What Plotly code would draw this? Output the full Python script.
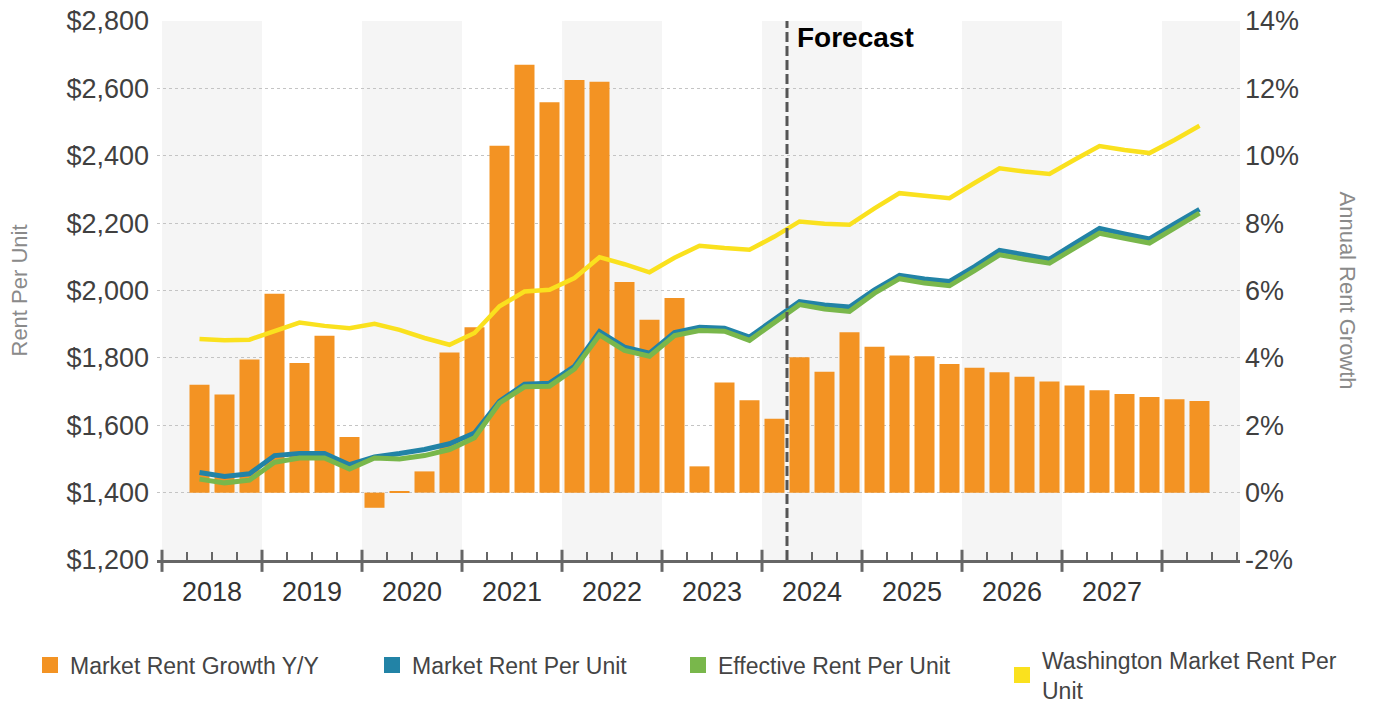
import plotly.graph_objects as go

# Quarterly series, 2018 Q2 through 2028 Q2
start_year, start_q = 2018, 2
years = [2018, 2019, 2020, 2021, 2022, 2023, 2024, 2025, 2026, 2027]

growth_pct = [3.20, 2.91, 3.95, 5.90, 3.85, 4.66, 1.65, -0.45, 0.03, 0.63,
              4.16, 4.91, 10.30, 12.70, 11.59, 12.25, 12.20, 6.25, 5.13, 5.78,
              0.78, 3.27, 2.74, 2.19, 4.02, 3.59, 4.76, 4.33, 4.07, 4.05,
              3.82, 3.71, 3.57, 3.44, 3.30, 3.18, 3.04, 2.93, 2.84, 2.77, 2.72]

market_rent = [1460, 1448, 1456, 1510, 1516, 1516, 1483, 1506, 1516, 1528,
               1545, 1577, 1671, 1722, 1725, 1775, 1878, 1832, 1814, 1875,
               1891, 1888, 1862, 1913, 1967, 1957, 1951, 2002, 2045, 2034,
               2027, 2071, 2119, 2106, 2093, 2139, 2184, 2168, 2153, 2198, 2241]

effective_rent = [1440, 1429, 1437, 1490, 1503, 1503, 1470, 1503, 1500, 1510,
                  1528, 1563, 1666, 1714, 1716, 1767, 1868, 1822, 1805, 1866,
                  1881, 1879, 1852, 1903, 1958, 1945, 1938, 1992, 2035, 2022,
                  2014, 2059, 2106, 2093, 2081, 2126, 2170, 2155, 2141, 2185, 2230]

washington_rent = [1856, 1852, 1854, 1878, 1905, 1895, 1888, 1901, 1883, 1859,
                   1839, 1874, 1953, 1997, 2002, 2037, 2099, 2078, 2054, 2097,
                   2133, 2126, 2121, 2160, 2205, 2198, 2195, 2244, 2289, 2281,
                   2274, 2319, 2363, 2353, 2346, 2388, 2429, 2417, 2408, 2447, 2489]

forecast_start = (2024, 2)  # first forecast quarter

rent_ticks = [1200, 1400, 1600, 1800, 2000, 2200, 2400, 2600, 2800]
pct_ticks = [-2, 0, 2, 4, 6, 8, 10, 12, 14]

ORANGE = "#F39323"
BLUE = "#2283A6"
GREEN = "#79B74B"
YELLOW = "#FAE11E"
AXIS = "#666666"
FONT = "Liberation Sans, Arial, sans-serif"


def qpos(year, q):
    """Axis position of a quarter's start, in quarters from Jan 2018."""
    return (year - years[0]) * 4 + (q - 1)


n = len(growth_pct)
x_mid = []
y_, q_ = start_year, start_q
for _ in range(n):
    x_mid.append(qpos(y_, q_) + 0.5)
    q_ += 1
    if q_ > 4:
        q_, y_ = 1, y_ + 1

x_end = qpos(years[-1] + 1, 1) + 3.12
forecast_x = qpos(*forecast_start)

fig = go.Figure()

fig.add_trace(go.Bar(x=x_mid, y=growth_pct, width=0.8, marker_color=ORANGE,
                     marker_line_width=0, showlegend=False, yaxis="y",
                     hovertemplate="%{y:.2f}%<extra>Market Rent Growth Y/Y</extra>"))

for vals, color, width, name in [
    (market_rent, BLUE, 5, "Market Rent Per Unit"),
    (effective_rent, GREEN, 5, "Effective Rent Per Unit"),
    (washington_rent, YELLOW, 4.5, "Washington Market Rent Per Unit"),
]:
    fig.add_trace(go.Scatter(x=x_mid, y=vals, mode="lines", yaxis="y2",
                             line=dict(color=color, width=width),
                             showlegend=False, name=name,
                             hovertemplate="$%{y:,.0f}<extra>" + name + "</extra>"))

# Legend entries, one legend box each so they can be spaced freely
legend_items = [
    ("Market Rent Growth Y/Y", ORANGE, "legend", 70),
    ("Market Rent Per Unit", BLUE, "legend2", 412),
    ("Effective Rent Per Unit", GREEN, "legend3", 718),
    ("Washington Market Rent Per<br>Unit", YELLOW, "legend4", 1042),
]
for label, color, leg, _ in legend_items:
    fig.add_trace(go.Scatter(x=[None], y=[None], mode="markers", name=label,
                             marker=dict(symbol="square", size=16, color=color),
                             legend=leg, showlegend=True))

shapes = []
# alternating year bands
for i in range(0, len(years) + 1, 2):
    x0 = qpos(years[0] + i, 1)
    shapes.append(dict(type="rect", xref="x", yref="paper", x0=x0,
                       x1=min(x0 + 4, x_end), y0=0, y1=1, layer="below",
                       fillcolor="#F5F5F5", line_width=0))
# year boundary ticks crossing the axis line
for i in range(len(years) + 1):
    xb = qpos(years[0] + i, 1)
    shapes.append(dict(type="line", xref="x", yref="paper", x0=xb, x1=xb,
                       y0=-0.022, y1=0.019, line=dict(color=AXIS, width=3)))
# forecast divider
shapes.append(dict(type="line", xref="x", yref="paper", x0=forecast_x,
                   x1=forecast_x, y0=0, y1=1, layer="above",
                   line=dict(color="#555555", width=3, dash="10px,4px")))

legends = {}
for k, (label, color, leg, text_px) in enumerate(legend_items):
    two_line = "<br>" in label
    legends[leg] = dict(
        xref="container", yref="container",
        x=(text_px - 40) / 1373, y=1 - (675 if two_line else 665) / 705,
        xanchor="left", yanchor="middle", orientation="h",
        bgcolor="rgba(0,0,0,0)", borderwidth=0,
        font=dict(family=FONT, size=23, color="#444444"),
        itemclick=False, itemdoubleclick=False,
    )

fig.update_layout(
    width=1373, height=705,
    margin=dict(l=157, r=133, t=21, b=145, autoexpand=False),
    paper_bgcolor="white", plot_bgcolor="white",
    font=dict(family=FONT, color="#404040"),
    shapes=shapes,
    xaxis=dict(
        range=[-0.2, x_end], showgrid=False, zeroline=False, automargin=False,
        showline=True, linecolor=AXIS, linewidth=3,
        tickvals=[qpos(y, 1) + 2 for y in years], ticktext=[str(y) for y in years],
        ticks="", tickfont=dict(size=27, color="#333333"),
        ticklabelstandoff=6,
        minor=dict(tickvals=[q for q in range(int(x_end) + 1) if q % 4],
                   ticks="inside", ticklen=8, tickwidth=1.5, tickcolor=AXIS,
                   showgrid=False),
    ),
    yaxis=dict(
        side="right", range=[pct_ticks[0], pct_ticks[-1]], automargin=False,
        tickvals=pct_ticks, ticktext=[f"{v}%" for v in pct_ticks],
        showgrid=True, gridcolor="#C4C4C4", griddash="dot", gridwidth=1.2,
        zeroline=False, ticks="", tickfont=dict(size=27, color="#404040"),
        ticklabelstandoff=4,
    ),
    yaxis2=dict(
        overlaying="y", side="left", range=[rent_ticks[0], rent_ticks[-1]],
        automargin=False,
        tickvals=rent_ticks, ticktext=[f"${v:,}" for v in rent_ticks],
        showgrid=False, zeroline=False, ticks="",
        tickfont=dict(size=27, color="#404040"), ticklabelstandoff=7,
    ),
    annotations=[
        dict(text="<b>Forecast</b>", xref="x", yref="paper", x=forecast_x, y=1,
             xanchor="left", yanchor="top", xshift=8, yshift=1, showarrow=False,
             font=dict(family=FONT, size=28, color="#000000")),
        dict(text="Rent Per Unit", xref="paper", yref="paper",
             x=(19 - 157) / 1083, y=0.5, textangle=-90, showarrow=False,
             xanchor="center", yanchor="middle",
             font=dict(family=FONT, size=22, color="#8A8A8A")),
        dict(text="Annual Rent Growth", xref="paper", yref="paper",
             x=(1347 - 157) / 1083, y=0.5, textangle=90, showarrow=False,
             xanchor="center", yanchor="middle",
             font=dict(family=FONT, size=22, color="#8A8A8A")),
    ],
    **legends,
)

fig.write_html("out.html")
